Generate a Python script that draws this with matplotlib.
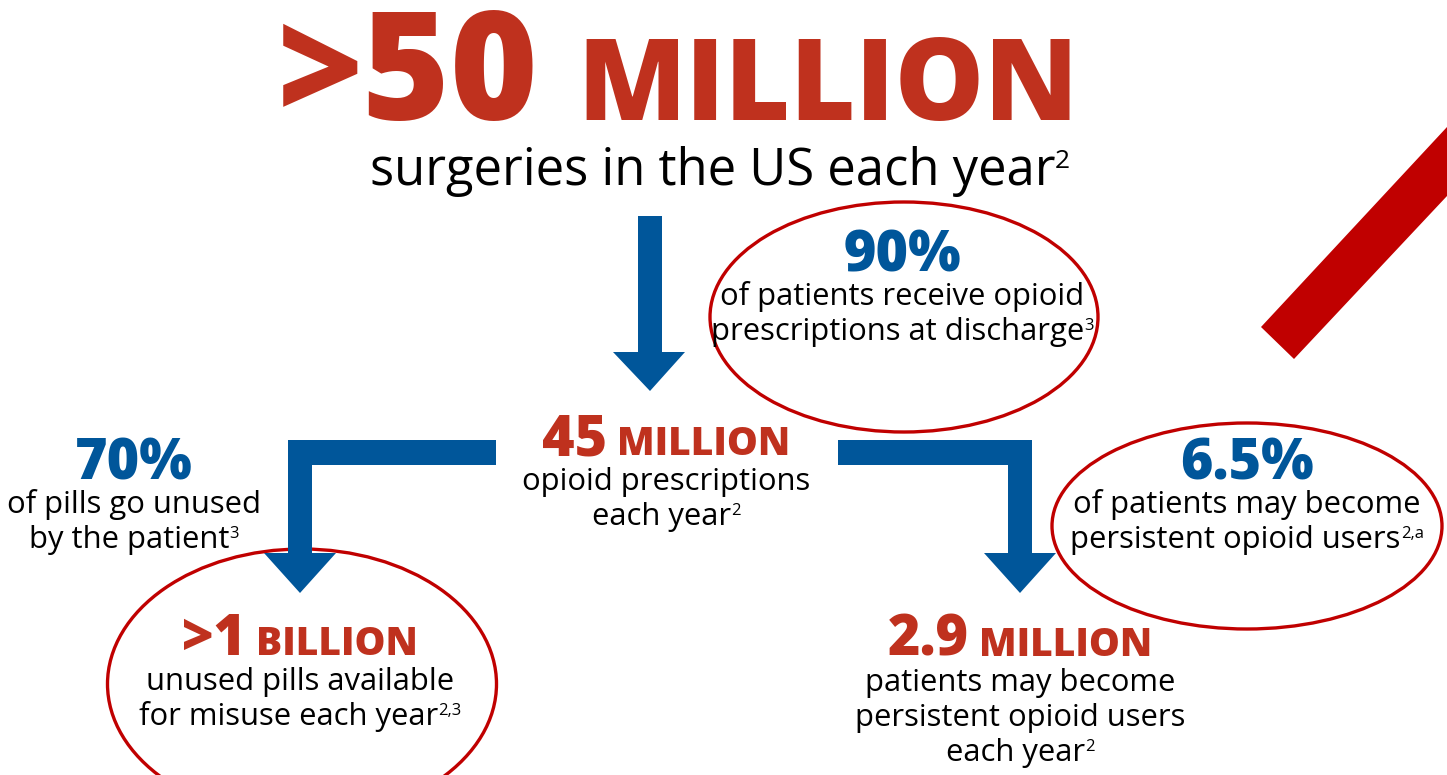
import matplotlib
matplotlib.use('Agg')
import matplotlib.pyplot as plt
from matplotlib.patches import Ellipse, Polygon

# ---------------- data (text content) ----------------
headline_value = '>50'
headline_unit = 'MILLION'
headline_caption = 'surgeries in the US each year'
headline_ref = '2'

big_values = ['45', '>1', '2.9']
big_units = ['MILLION', 'BILLION', 'MILLION']
big_captions = [
    ['opioid prescriptions', 'each year'],
    ['unused pills available', 'for misuse each year'],
    ['patients may become', 'persistent opioid users', 'each year'],
]
big_refs = [['', '2'], ['', '2,3'], ['', '', '2']]

pct_values = ['90%', '70%', '6.5%']
pct_captions = [
    ['of patients receive opioid', 'prescriptions at discharge'],
    ['of pills go unused', 'by the patient'],
    ['of patients may become', 'persistent opioid users'],
]
pct_refs = [['', '3'], ['', '3'], ['', '2,a']]

# ---------------- style ----------------
RED = '#BF311E'
BLUE = '#00569A'
RING = '#C00000'
BLACK = '#000000'
FONT = 'Open Sans'
HEAVY = 'heavy'

W, H = 1447, 775
fig = plt.figure(figsize=(W / 100, H / 100), dpi=100)
ax = fig.add_axes([0, 0, 1, 1])
ax.set_xlim(0, W)
ax.set_ylim(H, 0)
ax.axis('off')
renderer = fig.canvas.get_renderer()


def measure(s, size, weight):
    t = ax.text(0, 0, s, fontsize=size, fontweight=weight, family=FONT)
    w = t.get_window_extent(renderer).width
    t.remove()
    return w


def run(xc, y, parts, gap=0):
    """parts: list of (text, size, color, weight, raise_px). Centered at xc."""
    widths = [measure(p[0], p[1], p[3]) if p[0] else 0 for p in parts]
    total = sum(widths) + gap * (len([w for w in widths if w]) - 1)
    x = xc - total / 2
    for p, w in zip(parts, widths):
        if not p[0]:
            continue
        ax.text(x, y - p[4], p[0], fontsize=p[1], color=p[2], fontweight=p[3],
                family=FONT, ha='left', va='baseline')
        x += w + gap


BODY = 22.3
SUP = 12

# ---------------- shapes ----------------
ell_kw = dict(fill=False, edgecolor=RING, linewidth=2.4)
ax.add_patch(Ellipse((904, 317), 388, 230, **ell_kw))
ax.add_patch(Ellipse((1247, 526), 390, 206, **ell_kw))
ax.add_patch(Ellipse((302, 684), 389, 270, **ell_kw))

# red slash
ax.add_patch(Polygon([(1261, 327), (1294, 359), (1447, 196), (1447, 127)],
                     closed=True, facecolor=RING, edgecolor='none'))

# down arrow
ax.add_patch(Polygon([(638, 216), (662, 216), (662, 352), (685, 352), (650, 391),
                      (613, 352), (638, 352)], closed=True, facecolor=BLUE, edgecolor='none'))
# left elbow arrow
ax.add_patch(Polygon([(496, 440), (496, 465), (312, 465), (312, 553), (336, 553),
                      (300, 593), (264, 553), (288, 553), (288, 440)],
                     closed=True, facecolor=BLUE, edgecolor='none'))
# right elbow arrow
ax.add_patch(Polygon([(838, 440), (1032, 440), (1032, 553), (1056, 553), (1020, 593),
                      (984, 553), (1008, 553), (1008, 465), (838, 465)],
                     closed=True, facecolor=BLUE, edgecolor='none'))

# ---------------- headline ----------------
ax.text(278, 120, headline_value, fontsize=108, color=RED, fontweight=HEAVY,
        family=FONT, ha='left', va='baseline')
ax.text(577, 120, headline_unit, fontsize=81, color=RED, fontweight=HEAVY,
        family=FONT, ha='left', va='baseline')
run(720, 185, [(headline_caption, 36.5, BLACK, 'normal', 0),
               (headline_ref, 19, BLACK, 'normal', 17)])

# ---------------- percentages ----------------
pct_pos = [(902, 272), (134, 480), (1247, 480)]
for val, caps, refs, (xc, yb) in zip(pct_values, pct_captions, pct_refs, pct_pos):
    run(xc, yb, [(val, 40, BLUE, HEAVY, 0)])
    for i, (c, r) in enumerate(zip(caps, refs)):
        run(xc, yb + 33 + 35 * i, [(c, BODY, BLACK, 'normal', 0),
                                   (r, SUP, BLACK, 'normal', 10)])

# ---------------- big values ----------------
big_pos = [(666, 455), (300, 655), (1020, 656)]
for val, unit, caps, refs, (xc, yb) in zip(big_values, big_units, big_captions,
                                           big_refs, big_pos):
    run(xc, yb, [(val, 40, RED, HEAVY, 0), (unit, 28, RED, HEAVY, 0)], gap=10)
    for i, (c, r) in enumerate(zip(caps, refs)):
        run(xc, yb + 35 + 35 * i, [(c, BODY, BLACK, 'normal', 0),
                                   (r, SUP, BLACK, 'normal', 10)])

fig.savefig('out.png', dpi=100, facecolor='white')
